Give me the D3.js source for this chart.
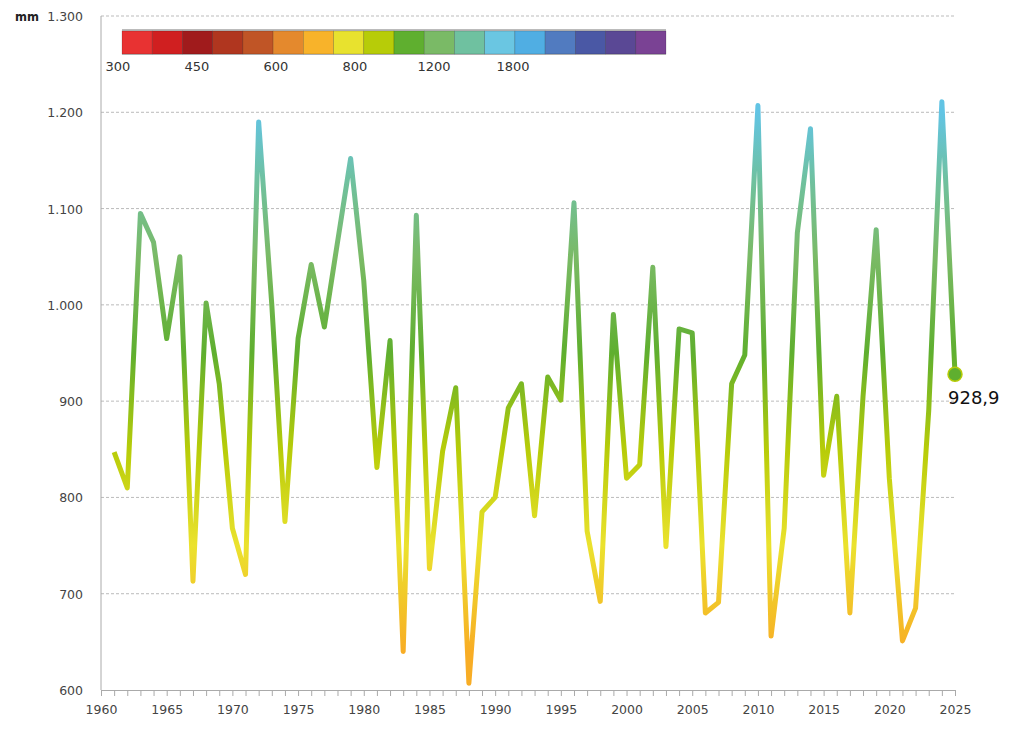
<!DOCTYPE html>
<html>
<head>
<meta charset="utf-8">
<script src="https://cdn.jsdelivr.net/npm/d3@7"></script>
<style>
  body { margin: 0; background: #fff; }
  text { font-family: "DejaVu Sans", sans-serif; }
</style>
</head>
<body>
<svg id="chart" width="1016" height="753"></svg>
<script>
// Annual rainfall (mm)
const years = d3.range(1961, 2026);
const rain = [
  847, 810, 1095, 1065, 965, 1050, 713, 1002, 918, 768,
  720, 1190, 1000, 775, 965, 1042, 977, 1065, 1152, 1025,
  831, 963, 640, 1093, 726, 848, 914, 607, 785, 800,
  893, 918, 781, 925, 901, 1106, 765, 692, 990, 820,
  834, 1039, 749, 975, 971, 680, 691, 918, 948, 1207,
  656, 768, 1075, 1183, 823, 905, 680, 905, 1078, 820,
  651, 685, 890, 1211, 928.9
];
const yTicks = [600, 700, 800, 900, 1000, 1100, 1200, 1300];
const legendColors = ['#e83232', '#d01f20', '#a01b1c', '#b0361f', '#c05526', '#e4892d', '#f8b32a', '#e8e22e',
  '#b7cc08', '#5faf2f', '#7aba66', '#6fc1a0', '#6ac6e2', '#50aee3', '#517bc0', '#4a58a5', '#5a4895', '#7a4294'];
const legendLabels = ['300', '450', '600', '800', '1200', '1800'];
// line gradient stops by value
const gradValues = [640, 750, 850, 950, 1050, 1130, 1210];
const gradColors = ['#f8ad25', '#ebe22e', '#b7cc08', '#5faf2f', '#7aba66', '#6fc1a0', '#62c4e4'];

const svg = d3.select('#chart');
const margin = { left: 101, right: 61, top: 16, bottom: 63 };
const width = 1016, height = 753;

const x = d3.scaleLinear().domain([1960, 2025]).range([margin.left, width - margin.right]);
const y = d3.scaleLinear().domain([600, 1300]).range([height - margin.bottom, margin.top]);

// grid
svg.append('g').selectAll('line')
  .data(yTicks.slice(1))
  .join('line')
  .attr('x1', x(1960)).attr('x2', x(2025))
  .attr('y1', d => y(d)).attr('y2', d => y(d))
  .attr('stroke', '#aaa').attr('stroke-width', 0.8)
  .attr('stroke-dasharray', '3,2');

// y axis
const fmt = d => d3.format(',')(d).replace(',', '.');
svg.append('line')
  .attr('x1', x(1960)).attr('x2', x(1960))
  .attr('y1', y(1300)).attr('y2', y(600))
  .attr('stroke', '#aaa');
svg.append('g').selectAll('text')
  .data(yTicks)
  .join('text')
  .attr('x', 83).attr('y', d => y(d) + 5)
  .attr('text-anchor', 'end')
  .style('font-size', '12.5px').style('fill', '#444')
  .text(fmt);
svg.append('text')
  .attr('x', 15).attr('y', y(1300) + 5)
  .style('font-size', '11.5px').style('font-weight', 'bold').style('fill', '#222')
  .text('mm');

// x axis
const xAxis = svg.append('g')
  .attr('transform', `translate(0,${y(600)})`)
  .call(d3.axisBottom(x).tickValues(d3.range(1960, 2026)).tickSize(6)
    .tickFormat(d => d % 5 === 0 ? d : ''));
xAxis.select('.domain').attr('stroke', '#aaa');
xAxis.selectAll('line').attr('stroke', '#aaa');
xAxis.selectAll('text').style('font-size', '12.5px').style('fill', '#444')
  .attr('dy', '1.2em');

// gradient
const grad = svg.append('defs').append('linearGradient')
  .attr('id', 'lineGrad')
  .attr('gradientUnits', 'userSpaceOnUse')
  .attr('x1', 0).attr('x2', 0)
  .attr('y1', y(600)).attr('y2', y(1200));
grad.selectAll('stop')
  .data(gradValues)
  .join('stop')
  .attr('offset', d => (d - 600) / 600)
  .attr('stop-color', (d, i) => gradColors[i]);

const data = years.map((yr, i) => ({ year: yr, value: rain[i] }));
const line = d3.line().x(d => x(d.year)).y(d => y(d.value));
svg.append('path')
  .datum(data)
  .attr('d', line)
  .attr('fill', 'none')
  .attr('stroke', 'url(#lineGrad)')
  .attr('stroke-width', 5)
  .attr('stroke-linejoin', 'round');

// end point
const last = data[data.length - 1];
svg.append('circle')
  .attr('cx', x(last.year)).attr('cy', y(last.value) + 1)
  .attr('r', 7)
  .attr('fill', '#5faf2f').attr('stroke', '#b7cc08').attr('stroke-width', 1.5);
svg.append('text')
  .attr('x', x(last.year) - 7).attr('y', y(last.value) + 31)
  .style('font-size', '18px').style('fill', '#111')
  .text(String(last.value).replace('.', ','));

// legend
const lx = d3.scaleBand().domain(d3.range(legendColors.length)).range([122, 666]);
const legend = svg.append('g');
legend.append('rect')
  .attr('x', 122).attr('y', 29).attr('width', 544).attr('height', 26)
  .attr('fill', '#bbb');
legend.selectAll('rect.sw')
  .data(legendColors)
  .join('rect')
  .attr('class', 'sw')
  .attr('x', (d, i) => lx(i)).attr('y', 31)
  .attr('width', lx.bandwidth()).attr('height', 23)
  .attr('fill', d => d)
  .attr('stroke', 'rgba(0,0,0,0.25)').attr('stroke-width', 0.6);
const lblX = d3.scalePoint().domain(legendLabels).range([118, 513]);
legend.selectAll('text')
  .data(legendLabels)
  .join('text')
  .attr('x', d => lblX(d))
  .attr('y', 71)
  .attr('text-anchor', 'middle')
  .style('font-size', '13px').style('fill', '#333')
  .text(d => d);
</script>
</body>
</html>
